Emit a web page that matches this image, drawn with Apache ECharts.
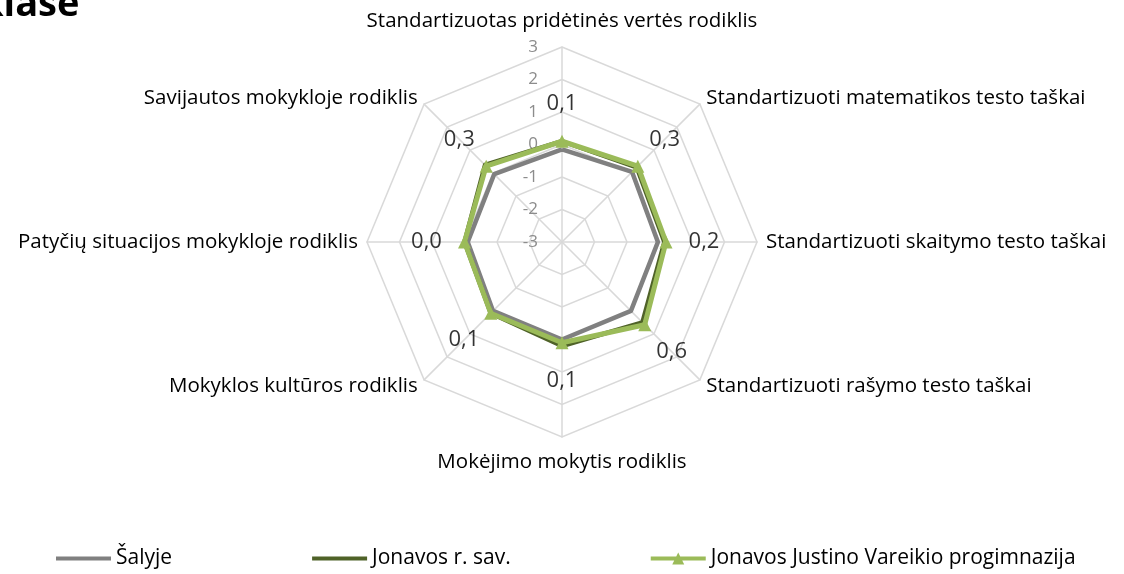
<!DOCTYPE html>
<html><head><meta charset="utf-8">
<script src="https://cdn.jsdelivr.net/npm/echarts@6/dist/echarts.min.js"></script>
<style>html,body{margin:0;padding:0;background:#fff}#c{width:1124px;height:574px}</style>
</head><body><div id="c"></div>
<script>
// Indicators in clockwise order starting at top
const categories = [
  'Standartizuotas pridėtinės vertės rodiklis',
  'Standartizuoti matematikos testo taškai',
  'Standartizuoti skaitymo testo taškai',
  'Standartizuoti rašymo testo taškai',
  'Mokėjimo mokytis rodiklis',
  'Mokyklos kultūros rodiklis',
  'Patyčių situacijos mokykloje rodiklis',
  'Savijautos mokykloje rodiklis'
];
const seriesNames = ['Šalyje', 'Jonavos r. sav.', 'Jonavos Justino Vareikio progimnazija'];
const salyje  = [-0.15, 0.05, -0.05, 0.0, 0.0, 0.0, -0.1, -0.05];
const rajonas = [0.1, 0.25, 0.15, 0.5, 0.2, 0.1, 0.0, 0.35];
const mokykla = [0.1, 0.3, 0.2, 0.6, 0.1, 0.1, 0.0, 0.3];
const tickLabels = [-3, -2, -1, 0, 1, 2, 3];
const titleText = 'klase';

const FONT = 'Open Sans';
const CX = 562, CY = 242, R = 195;
// ECharts radar goes counter-clockwise; reorder to get clockwise layout
const order = categories.map((_, i) => i === 0 ? 0 : categories.length - i);
const ro = arr => order.map(i => arr[i]);
const fmt = v => v.toFixed(1).replace('.', ',');
const LBL_D = 38;

const lineIcon = 'path://M0,0L0.1,0M0,4L55,4L55,8L0,8ZM0,12L0.1,12';
const triIcon = 'path://M0,0L0.1,0M0,4L55,4L55,8L0,8ZM21.5,12L27.5,0L33.5,12Z';

const chart = echarts.init(document.getElementById('c'), null, {renderer: 'canvas'});
chart.setOption({
  backgroundColor: '#fff',
  animation: false,
  graphic: [{
    type: 'text', x: -20, y: 24,
    style: {text: titleText, font: 'bold 38px "Open Sans"', fill: '#000', verticalAlign: 'bottom'}
  }],
  legend: {
    top: 543, left: 51, itemGap: 140, itemWidth: 55, itemHeight: 12,
    textStyle: {fontFamily: FONT, fontSize: 21, color: '#000'},
    data: [
      {name: seriesNames[0], icon: lineIcon},
      {name: seriesNames[1], icon: lineIcon},
      {name: seriesNames[2], icon: triIcon}
    ]
  },
  grid: {left: 540, top: CY - R, width: 20, height: R},
  xAxis: {type: 'value', show: false},
  yAxis: {
    type: 'value', min: tickLabels[0], max: tickLabels[tickLabels.length - 1], interval: 1,
    axisLine: {show: false}, axisTick: {show: false}, splitLine: {show: false},
    axisLabel: {color: '#8c8c8c', fontFamily: FONT, fontSize: 17, margin: 2}
  },
  polar: {center: [CX, CY], radius: R},
  angleAxis: {
    type: 'category', data: categories, startAngle: 90, clockwise: true, boundaryGap: false,
    show: false
  },
  radiusAxis: {type: 'value', min: -3, max: 3, show: false},
  radar: {
    center: [CX, CY], radius: R, startAngle: 90, splitNumber: 6, shape: 'polygon',
    nameGap: 9,
    indicator: ro(categories).map(n => ({name: n, min: -3, max: 3})),
    axisName: {color: '#000', fontFamily: FONT, fontSize: 20.5, padding: [6, 0]},
    splitLine: {lineStyle: {color: '#d9d9d9', width: 1.5}},
    splitArea: {show: false},
    axisLine: {lineStyle: {color: '#d9d9d9', width: 1.5}},
    axisTick: {show: false},
    axisLabel: {show: false}
  },
  series: [
    {
      type: 'radar', name: seriesNames[0], symbol: 'none', z: 3,
      lineStyle: {color: '#808080', width: 4.5}, itemStyle: {color: '#808080'},
      data: [{name: seriesNames[0], value: ro(salyje)}]
    },
    {
      type: 'radar', name: seriesNames[1], symbol: 'none', z: 4,
      lineStyle: {color: '#4f6228', width: 4.5}, itemStyle: {color: '#4f6228'},
      data: [{name: seriesNames[1], value: ro(rajonas)}]
    },
    {
      type: 'radar', name: seriesNames[2], symbol: 'triangle', symbolSize: 13, z: 5,
      lineStyle: {color: '#9bbb59', width: 5}, itemStyle: {color: '#9bbb59'},
      data: [{name: seriesNames[2], value: ro(mokykla)}]
    },
    {
      type: 'scatter', coordinateSystem: 'polar', symbolSize: 0, z: 6, silent: true,
      data: mokykla.map((v, i) => {
        const a = i * Math.PI * 2 / categories.length;
        return {
          value: [v, i],
          label: {
            show: true, position: 'inside',
            offset: [LBL_D * Math.sin(a), -LBL_D * Math.cos(a)],
            formatter: () => fmt(v),
            color: '#000', fontFamily: FONT, fontSize: 22
          }
        };
      })
    }
  ]
});
</script></body></html>
